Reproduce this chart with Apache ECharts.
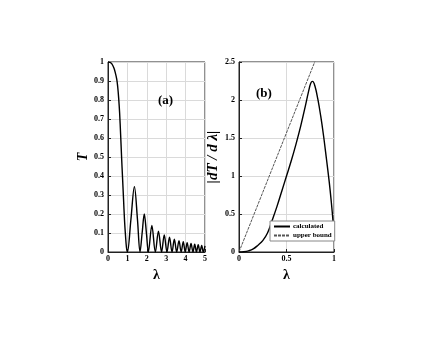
<!DOCTYPE html>
<html>
<head>
<meta charset="utf-8">
<script src="https://cdn.jsdelivr.net/npm/echarts@6/dist/echarts.min.js"></script>
<style>
    html, body { margin: 0; padding: 0; background: #fff; }
    #chart { width: 421px; height: 338px; }
</style>
</head>
<body>
<div id="chart"></div>
<script>
    // (a) transmission T versus lambda
    var lamA = [0, 0.1, 0.2, 0.3, 0.36, 0.45, 0.5, 0.55, 0.6, 0.65, 0.7, 0.75, 0.8, 0.85, 0.9, 0.95, 1.0,
        1.18, 1.36, 1.52, 1.65, 1.76, 1.87, 1.98, 2.08, 2.26, 2.44, 2.6, 2.76, 2.9, 3.04, 3.17, 3.30, 3.42,
        3.54, 3.66, 3.77, 3.88, 3.98, 4.08, 4.18, 4.28, 4.38, 4.47, 4.56, 4.65, 4.74, 4.83, 4.91, 5.0];
    var tA = [1, 0.998, 0.99, 0.97, 0.95, 0.91, 0.87, 0.81, 0.73, 0.62, 0.5, 0.39, 0.28, 0.17, 0.09, 0.025, 0,
        0.17, 0.344, 0.17, 0, 0.1, 0.2, 0.1, 0, 0.14, 0, 0.11, 0, 0.09, 0, 0.078, 0, 0.068,
        0, 0.06, 0, 0.054, 0, 0.049, 0, 0.045, 0, 0.041, 0, 0.038, 0, 0.035, 0, 0.032];

    // (b) |dT/d lambda|
    var lamB = [0, 0.05, 0.1, 0.15, 0.2, 0.25, 0.3, 0.35, 0.4, 0.45, 0.5, 0.55, 0.6, 0.65, 0.7, 0.73, 0.755, 0.775,
        0.8, 0.83, 0.86, 0.89, 0.92, 0.95, 0.97, 0.99, 1.0];
    var calcB = [0, 0.003, 0.015, 0.04, 0.09, 0.15, 0.25, 0.42, 0.6, 0.8, 1.0, 1.2, 1.42, 1.66, 1.93, 2.1, 2.22, 2.245,
        2.18, 2.01, 1.79, 1.53, 1.23, 0.92, 0.68, 0.4, 0.2];
    var boundLam = [0, 0.8];
    var boundVal = [0, 2.51];

    var yTicksA = [0, 0.1, 0.2, 0.3, 0.4, 0.5, 0.6, 0.7, 0.8, 0.9, 1];
    var yTicksB = [0, 0.5, 1, 1.5, 2, 2.5];

    function pairs(xs, ys) {
        var out = [];
        for (var i = 0; i < xs.length; i++) {
            out.push([xs[i], ys[i]]);
        }
        return out;
    }

    var serif = 'Liberation Serif';
    var tickFont = {fontFamily: serif, fontWeight: 'bold', fontSize: 8, color: '#000'};
    var gridLine = {show: true, lineStyle: {color: '#dadada', width: 1}};
    var axisLine = {show: true, lineStyle: {color: '#222', width: 1}};
    var axisTick = {show: true, inside: true, length: 3, lineStyle: {color: '#222'}};

    var chart = echarts.init(document.getElementById('chart'));
    var option = {
        backgroundColor: '#fff',
        animation: false,
        title: [
            {text: '(a)', left: 153, top: 89, textStyle: {fontFamily: serif, fontWeight: 'bold', fontSize: 13, color: '#000'}},
            {text: '(b)', left: 251, top: 82, textStyle: {fontFamily: serif, fontWeight: 'bold', fontSize: 13, color: '#000'}}
        ],
        grid: [
            {left: 108, right: 216, top: 62, bottom: 86, show: true, borderColor: '#222', borderWidth: 1},
            {left: 239, right: 87, top: 62, bottom: 86, show: true, borderColor: '#222', borderWidth: 1}
        ],
        legend: {
            data: ['calculated', 'upper bound'],
            orient: 'vertical',
            left: 270,
            top: 221,
            padding: [2, 3, 2, 3],
            itemGap: 2,
            itemWidth: 16,
            itemHeight: 6,
            itemStyle: {opacity: 0},
            backgroundColor: '#fff',
            borderColor: '#888',
            borderWidth: 1,
            borderRadius: 0,
            textStyle: {fontFamily: serif, fontWeight: 'bold', fontSize: 7, color: '#000', padding: [0, 0, 0, -2]}
        },
        xAxis: [
            {
                gridIndex: 0, type: 'value', min: 0, max: 5, interval: 1,
                name: 'λ', nameLocation: 'middle', nameGap: 11,
                nameTextStyle: {fontFamily: serif, fontWeight: 'bold', fontSize: 14, color: '#000'},
                axisLine: axisLine, axisTick: axisTick, splitLine: gridLine,
                axisLabel: Object.assign({margin: 3}, tickFont)
            },
            {
                gridIndex: 1, type: 'value', min: 0, max: 1, interval: 0.5,
                name: 'λ', nameLocation: 'middle', nameGap: 11,
                nameTextStyle: {fontFamily: serif, fontWeight: 'bold', fontSize: 14, color: '#000'},
                axisLine: axisLine, axisTick: axisTick, splitLine: gridLine,
                axisLabel: Object.assign({margin: 3}, tickFont)
            }
        ],
        yAxis: [
            {
                gridIndex: 0, type: 'value', min: 0, max: 1, interval: 0.1,
                name: 'T', nameLocation: 'middle', nameGap: 13, nameRotate: 90,
                nameTextStyle: {fontFamily: serif, fontWeight: 'bold', fontStyle: 'italic', fontSize: 14, color: '#000'},
                axisLine: axisLine, axisTick: axisTick, splitLine: gridLine,
                axisLabel: Object.assign({margin: 4, formatter: function (v) {
                    var i = Math.round(v * 10);
                    return String(yTicksA[i]);
                }}, tickFont)
            },
            {
                gridIndex: 1, type: 'value', min: 0, max: 2.5, interval: 0.5,
                name: '|dT / d λ|', nameLocation: 'middle', nameGap: 8, nameRotate: 90,
                nameTextStyle: {fontFamily: serif, fontWeight: 'bold', fontStyle: 'italic', fontSize: 15, color: '#000'},
                axisLine: axisLine, axisTick: axisTick, splitLine: gridLine,
                axisLabel: Object.assign({margin: 4, formatter: function (v) {
                    var i = Math.round(v * 2);
                    return String(yTicksB[i]);
                }}, tickFont)
            }
        ],
        series: [
            {
                type: 'line', xAxisIndex: 0, yAxisIndex: 0, smooth: 0.35, showSymbol: false, clip: true,
                data: pairs(lamA, tA),
                lineStyle: {color: '#000', width: 1.4}
            },
            {
                name: 'calculated', type: 'line', xAxisIndex: 1, yAxisIndex: 1, smooth: 0.4, showSymbol: false, symbol: 'none', clip: true,
                data: pairs(lamB, calcB),
                itemStyle: {color: '#000'},
                lineStyle: {color: '#000', width: 1.4}, z: 3
            },
            {
                name: 'upper bound', type: 'line', xAxisIndex: 1, yAxisIndex: 1, showSymbol: false, symbol: 'none', clip: true,
                data: pairs(boundLam, boundVal),
                itemStyle: {color: '#555'},
                lineStyle: {color: '#555', width: 1, type: [3, 1]}, z: 2
            }
        ]
    };
    chart.setOption(option);
</script>
</body>
</html>
